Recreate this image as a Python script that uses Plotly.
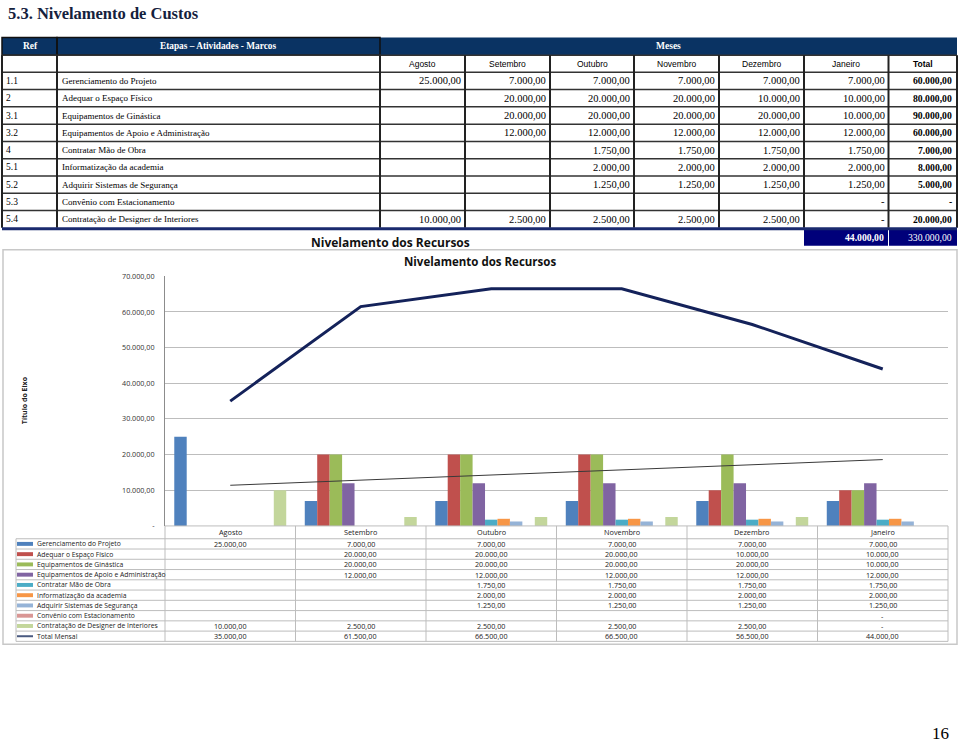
import plotly.graph_objects as go

# ---------------- data ----------------
months = ["Agosto", "Setembro", "Outubro", "Novembro", "Dezembro", "Janeiro"]
refs = ["1.1", "2", "3.1", "3.2", "4", "5.1", "5.2", "5.3", "5.4"]
activities = [
    "Gerenciamento do Projeto",
    "Adequar o Espaço Físico",
    "Equipamentos de Ginástica",
    "Equipamentos de Apoio e Administração",
    "Contratar Mão de Obra",
    "Informatização da academia",
    "Adquirir Sistemas de Segurança",
    "Convênio com Estacionamento",
    "Contratação de Designer de Interiores",
]
gerenciamento = [25000, 7000, 7000, 7000, 7000, 7000]
adequar = [None, 20000, 20000, 20000, 10000, 10000]
ginastica = [None, 20000, 20000, 20000, 20000, 10000]
apoio = [None, 12000, 12000, 12000, 12000, 12000]
mao_obra = [None, None, 1750, 1750, 1750, 1750]
informatizacao = [None, None, 2000, 2000, 2000, 2000]
seguranca = [None, None, 1250, 1250, 1250, 1250]
estacionamento = [None, None, None, None, None, 0]
designer = [10000, 2500, 2500, 2500, 2500, 0]
totais = [60000, 80000, 90000, 60000, 7000, 8000, 5000, 0, 20000]
total_mensal = [35000, 61500, 66500, 66500, 56500, 44000]
total_janeiro = 44000
total_geral = 330000
trend_months = ["Agosto", "Janeiro"]
trend_values = [11400, 18600]
y_ticks = [0, 10000, 20000, 30000, 40000, 50000, 60000, 70000]

series = [gerenciamento, adequar, ginastica, apoio, mao_obra,
          informatizacao, seguranca, estacionamento, designer]
colors = ["#4F81BD", "#C0504D", "#9BBB59", "#8064A2", "#4BACC6",
          "#F79646", "#95B3D7", "#D99694", "#C3D69B"]
line_color = "#14225a"

# ---------------- helpers ----------------
W, H = 960, 747


def px(x):
    return x / W


def py(y):
    return 1 - y / H


def br(v):
    if v is None:
        return ""
    if v == 0:
        return "-"
    s = f"{v:,.2f}"
    return s.replace(",", "#").replace(".", ",").replace("#", ".")


shapes = []
ann = []


def rect(x0, y0, x1, y1, fill=None, lc=None, lw=0):
    shapes.append(dict(type="rect", xref="paper", yref="paper",
                       x0=px(x0), x1=px(x1), y0=py(y1), y1=py(y0),
                       fillcolor=fill if fill else "rgba(0,0,0,0)",
                       line=dict(color=lc if lc else "rgba(0,0,0,0)", width=lw),
                       layer="below"))


def hline(x0, x1, y, color, w):
    shapes.append(dict(type="line", xref="paper", yref="paper",
                       x0=px(x0), x1=px(x1), y0=py(y), y1=py(y),
                       line=dict(color=color, width=w)))


def vline(x, y0, y1, color, w):
    shapes.append(dict(type="line", xref="paper", yref="paper",
                       x0=px(x), x1=px(x), y0=py(y0), y1=py(y1),
                       line=dict(color=color, width=w)))


def text(x, y, t, size=10, color="#000", family="Liberation Serif",
         anchor="left", bold=False, yanchor="middle"):
    if bold:
        t = f"<b>{t}</b>"
    ann.append(dict(x=px(x), y=py(y),
                    xref="paper", yref="paper", text=t, showarrow=False,
                    xanchor=anchor, yanchor=yanchor,
                    font=dict(size=size, color=color, family=family)))


SERIF = "Liberation Serif, Times New Roman, serif"
SANS = "Liberation Sans, Arial, sans-serif"
CHART = "Open Sans, Lato, sans-serif"

# ---------------- page title ----------------
text(6, 9, "5.3. Nivelamento de Custos", size=16.5, color="#14213d",
     family=SERIF, bold=True)

# ---------------- top table ----------------
navy = "#0a3363"
cols = [2, 57, 380, 465, 550, 634, 719, 804, 888.5, 957]
rect(2, 33, 957, 51, fill=navy)
rect(2, 33, 57, 51, lc="#111", lw=1.5)
rect(57, 33, 380, 51, lc="#111", lw=1.5)
text(30, 42, "Ref", size=9.5, color="white", family=SERIF, anchor="center", bold=True)
text(218, 42, "Etapas – Atividades - Marcos", size=9.3, color="white",
     family=SERIF, anchor="center", bold=True)
text(668, 42, "Meses", size=9.5, color="white", family=SERIF, anchor="center", bold=True)

row_top = 51
hdr_h = 17.25
row_h = 17.5
for j, m in enumerate(months):
    cx = (cols[j + 2] + cols[j + 3]) / 2
    text(cx, row_top + hdr_h / 2, m, size=8.5, family=SANS, anchor="center")
text((cols[8] + cols[9]) / 2, row_top + hdr_h / 2, "Total", size=8.5,
     family=SANS, anchor="center", bold=True)

first = row_top + hdr_h
for i in range(len(refs)):
    yc = first + row_h * (i + 0.5)
    text(4, yc, refs[i], size=9.5, family=SERIF)
    text(cols[1] + 3, yc, activities[i], size=9, family=SERIF)
    for j in range(6):
        text(cols[j + 3] - 2, yc, br(series[i][j]), size=10.5,
             family=SERIF, anchor="right")
    text(cols[9] - 3, yc, br(totais[i]), size=9.7, family=SERIF,
         anchor="right", bold=True)

table_bottom = first + row_h * len(refs)
hline(2, 957, row_top, "#333", 1.5)
for i in range(len(refs)):
    hline(2, 957, first + row_h * i, "#333", 1.5)
for c in cols:
    vline(c, row_top, table_bottom, "#222", 2)
hline(2, 957, table_bottom + 1, "#1a2a6e", 3)

# total cells (Janeiro / Total columns)
rect(cols[7], 228, cols[8] - 0.5, 244, fill="#00007a")
rect(cols[8] + 0.5, 228, cols[9], 244, fill="#00007a")
text(cols[8] - 3, 236, br(total_janeiro), size=9.7, color="white", family=SERIF,
     anchor="right", bold=True)
text(cols[9] - 3, 236, br(total_geral), size=9.7, color="white", family=SERIF,
     anchor="right")
text(390, 241, "Nivelamento dos Recursos", size=12, family=CHART,
     anchor="center", bold=True, color="#111")

# ---------------- chart box ----------------
rect(3, 248, 957, 648, lc="#c8c8c8", lw=1.5)
text(480, 260, "Nivelamento dos Recursos", size=11.5, family=CHART,
     anchor="center", bold=True, color="#111")
ann.append(dict(x=px(18), y=py(401), xref="paper", yref="paper",
                text="<b>Título do Eixo</b>", showarrow=False, textangle=-90,
                font=dict(size=7, color="#222", family=CHART)))

# ---------------- data table under chart ----------------
x_left, x_right = 165, 948
t_top, t_hdr = 528, 541
t_row = 10.4
n_rows = len(activities) + 1
t_bot = t_hdr + t_row * n_rows
gcol = "#bdbdbd"
hline(x_left, x_right, t_top, gcol, 1)
hline(16, x_right, t_hdr, gcol, 1)
for r in range(1, n_rows + 1):
    hline(16, x_right, t_hdr + t_row * r, gcol, 1)
vline(16, t_hdr, t_bot, gcol, 1)
for k in range(len(months) + 1):
    xx = x_left + (x_right - x_left) * k / len(months)
    vline(xx, t_top, t_bot, gcol, 1)

for m in months:
    ann.append(dict(x=m, y=py((t_top + t_hdr) / 2), xref="x", yref="paper",
                    text=m, showarrow=False, xanchor="center", yanchor="middle",
                    font=dict(size=7.3, color="#222", family=CHART)))

row_series = series + [total_mensal]
row_names = activities + ["Total Mensal"]
row_colors = colors + [line_color]
for r in range(n_rows):
    yc = t_hdr + t_row * (r + 0.5)
    if r < len(activities):
        rect(17, yc - 2, 33, yc + 2, fill=row_colors[r])
    else:
        hline(17, 33, yc, "#4a5a80", 2)
    text(35, yc, row_names[r], size=6.8, family=CHART, color="#222")
    for j, m in enumerate(months):
        ann.append(dict(x=m, y=py(yc), xref="x", yref="paper",
                        text=br(row_series[r][j]), showarrow=False,
                        xanchor="center", yanchor="middle",
                        font=dict(size=7.2, color="#222", family=CHART)))

# page number
text(940, 738, "16", size=17, family=SERIF, anchor="center")

# ---------------- traces ----------------
fig = go.Figure()
for name, vals, c in zip(activities, series, colors):
    fig.add_trace(go.Bar(x=months, y=vals, name=name, marker_color=c,
                         marker_line_width=0))
fig.add_trace(go.Scatter(x=months, y=total_mensal, mode="lines",
                         name="Total Mensal",
                         line=dict(color=line_color, width=3)))
fig.add_trace(go.Scatter(x=trend_months, y=trend_values, mode="lines",
                         name="Tendência",
                         line=dict(color="#3a3a3a", width=1)))

fig.update_layout(
    width=W, height=H, autosize=False,
    margin=dict(l=0, r=0, t=0, b=0),
    paper_bgcolor="white", plot_bgcolor="white",
    showlegend=False,
    barmode="group", bargap=0.142, bargroupgap=0,
    shapes=shapes, annotations=ann,
    xaxis=dict(domain=[px(x_left), px(x_right)], type="category",
               categoryorder="array", categoryarray=months,
               range=[-0.5, 5.5], showticklabels=False, showgrid=False,
               showline=False, zeroline=False, fixedrange=True),
    yaxis=dict(domain=[py(t_top), py(275)], range=[0, 70000],
               tickvals=y_ticks, ticktext=[br(v) for v in y_ticks],
               tickfont=dict(size=7.2, color="#333", family=CHART),
               ticklabelstandoff=8,
               showgrid=True, gridcolor="#bdbdbd", gridwidth=1,
               showline=True, linecolor="#8c8c8c", linewidth=1,
               zeroline=False, ticks="", fixedrange=True),
)

fig.write_html(
    "out.html",
    config={"displayModeBar": False},
    post_script="document.body.style.margin='0';document.body.style.overflow='hidden';",
)
